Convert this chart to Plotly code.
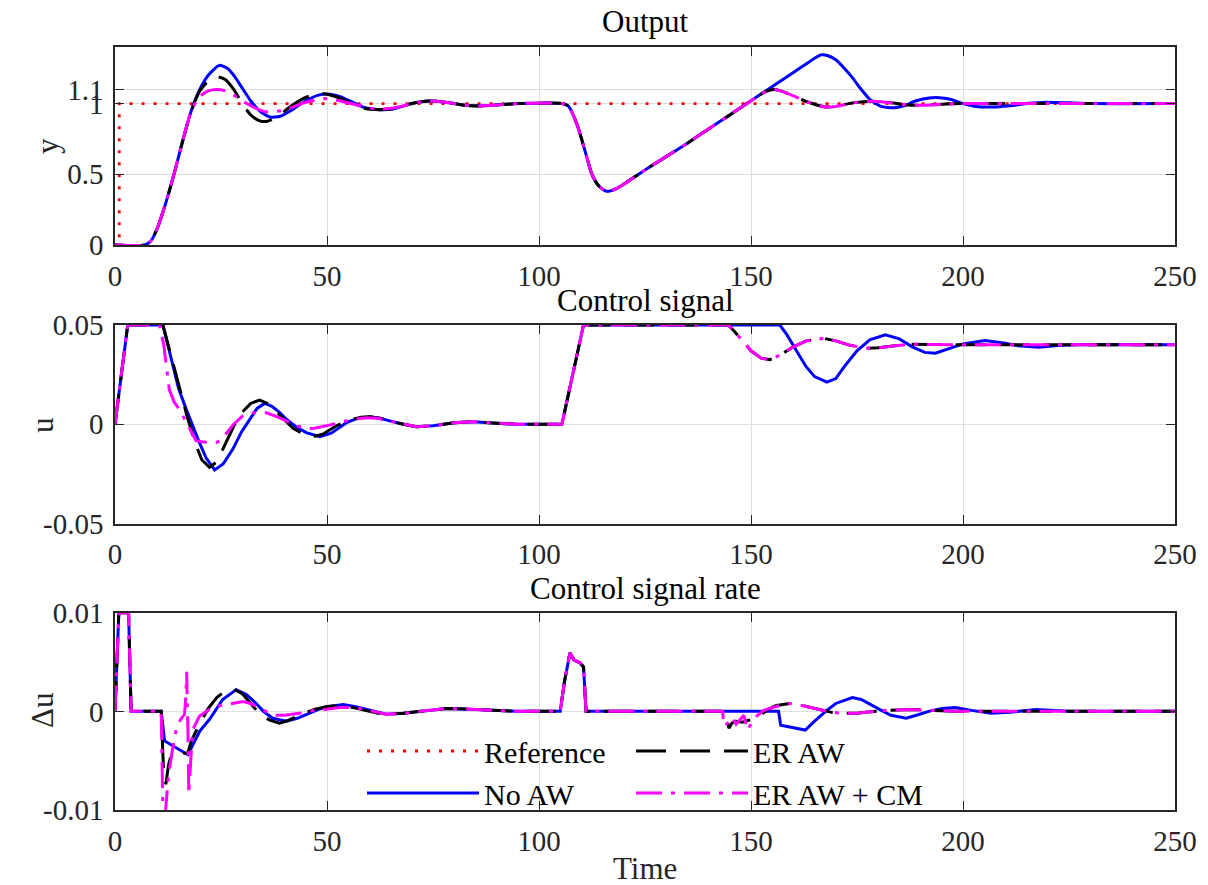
import plotly.graph_objects as go

# ---------------- data ----------------
T_REF = [0, 1, 1, 250]
Y_REF = [0, 0, 1, 1]

T_Y_NOAW = [0, 7, 8.5, 10, 12, 14, 16, 18, 20, 22, 24.6, 26.5, 28, 30, 32, 34, 36.5, 39, 42, 45,
            48, 50, 53, 56, 59, 62.4, 66, 70, 74, 78, 82, 86, 90, 95, 105.5, 107, 109, 111, 112.4, 114,
            115.5, 116.5, 118, 120, 125, 130, 135, 140, 145, 148.5, 152, 156, 160, 163, 165, 166.6, 168, 170, 172, 174,
            176, 178, 180.7, 183.7, 186, 189, 192, 194.4, 197, 200, 203, 207, 211, 215, 219.8, 225, 230, 250]
Y_NOAW = [0, 0, 0.03, 0.12, 0.3, 0.51, 0.74, 0.95, 1.1, 1.2, 1.27, 1.25, 1.2, 1.11, 1.02, 0.95, 0.905, 0.91, 0.96, 1.02,
          1.06, 1.068, 1.05, 1.01, 0.97, 0.957, 0.965, 1.0, 1.018, 1.01, 0.99, 0.983, 0.99, 1.0, 1.0, 0.98, 0.85, 0.65, 0.506, 0.42,
          0.385, 0.38, 0.395, 0.43, 0.53, 0.625, 0.72, 0.82, 0.92, 0.99, 1.06, 1.14, 1.22, 1.28, 1.32, 1.345, 1.34, 1.31, 1.25, 1.18,
          1.1, 1.03, 0.98, 0.97, 0.985, 1.02, 1.04, 1.042, 1.03, 1.0, 0.98, 0.976, 0.985, 1.0, 1.01, 1.005, 1.0, 1.0]

T_Y_ER = [0, 7, 8.5, 10, 12, 14, 16, 18, 20, 22, 24, 26, 28, 30, 32, 34, 35.7, 38, 41, 44,
          47, 49, 52, 56, 59, 62.4, 66, 70, 74, 78, 82, 86, 90, 95, 105.5, 107, 109, 111, 112.4, 114,
          115.5, 116.5, 118, 120, 125, 130, 135, 140, 145, 148.5, 152, 153.5, 155.3, 157, 160, 163, 165.5, 167.5, 170, 174,
          178.8, 183, 187, 190.5, 195, 200, 250]
Y_ER = [0, 0, 0.03, 0.12, 0.3, 0.51, 0.74, 0.95, 1.09, 1.16, 1.19, 1.17, 1.1, 1.0, 0.92, 0.88, 0.873, 0.9, 0.97, 1.03,
        1.065, 1.07, 1.05, 1.0, 0.965, 0.957, 0.965, 1.0, 1.018, 1.01, 0.99, 0.983, 0.99, 1.0, 1.0, 0.98, 0.85, 0.65, 0.506, 0.42,
        0.385, 0.38, 0.395, 0.43, 0.53, 0.625, 0.72, 0.82, 0.92, 0.99, 1.06, 1.085, 1.1, 1.09, 1.055, 1.015, 0.99, 0.976, 0.98, 1.005,
        1.016, 1.005, 0.99, 0.988, 0.995, 1.0, 1.0]

T_Y_CM = [0, 7, 8.5, 10, 12, 14, 16, 18, 20, 22, 24, 26, 28, 30, 33, 36, 40, 44, 48, 50,
          53, 57, 62, 66, 70, 74, 78, 82, 86, 90, 95, 105.5, 107, 109, 111, 112.4, 114,
          115.5, 116.5, 118, 120, 125, 130, 135, 140, 145, 148.5, 152, 153.5, 155.3, 157, 160, 163, 165.5, 167.5, 170, 174,
          178.8, 183, 187, 190.5, 195, 200, 250]
Y_CM = [0, 0, 0.03, 0.12, 0.3, 0.51, 0.74, 0.95, 1.05, 1.09, 1.10, 1.09, 1.06, 1.02, 0.97, 0.94, 0.955, 1.0, 1.03, 1.035,
        1.02, 0.99, 0.96, 0.97, 1.0, 1.018, 1.01, 0.99, 0.983, 0.99, 1.0, 1.0, 0.98, 0.85, 0.65, 0.506, 0.42,
        0.385, 0.38, 0.395, 0.43, 0.53, 0.625, 0.72, 0.82, 0.92, 0.99, 1.06, 1.085, 1.1, 1.09, 1.055, 1.015, 0.99, 0.976, 0.98, 1.005,
        1.016, 1.005, 0.99, 0.988, 0.995, 1.0, 1.0]

# control signal u
T_U_NOAW = [0, 3, 11.3, 13, 15, 16.8, 18.5, 19.9, 21.5, 23.5, 25.5, 27.8, 29.8, 31.7, 33.5, 35.3, 37, 38.8, 40.4, 42.5,
            45.1, 48.3, 51, 54.6, 57, 60.1, 62.5, 64.8, 68, 71.1, 75, 80, 84.5, 90, 95, 105.4, 110.5, 156.8, 158.5, 161,
            163, 165, 167.9, 170, 172, 175, 178, 181.7, 185, 188, 191, 193.5, 196, 200, 205.2, 210, 213, 217.9, 223, 230, 250]
U_NOAW = [0, 0.05, 0.05, 0.035, 0.018, 0.0075, -0.002, -0.0092, -0.017, -0.023, -0.02, -0.0125, -0.004, 0.0025, 0.008, 0.0105, 0.009, 0.006, 0.0025, -0.001,
          -0.0042, -0.0063, -0.0045, 0.0008, 0.0028, 0.0038, 0.003, 0.0017, 0, -0.0012, -0.0008, 0.0008, 0.0013, 0.0005, 0, 0, 0.05, 0.05, 0.045, 0.036,
          0.029, 0.024, 0.0212, 0.023, 0.029, 0.037, 0.0425, 0.045, 0.043, 0.039, 0.0362, 0.0358, 0.0375, 0.0405, 0.0422, 0.0408, 0.0395, 0.0388, 0.0398, 0.0402, 0.04]

T_U_ER = [0, 3, 11.3, 13, 15, 17, 19, 20.5, 22.3, 24, 26, 28, 30, 32, 34.1, 36, 38, 40, 42, 44.5,
          46.7, 49, 52, 55, 58, 60.1, 62.5, 64.8, 68, 71.1, 75, 80, 84.5, 90, 95, 105.4, 110.5, 144.6, 146, 148,
          150, 152.4, 154.4, 157, 160, 163, 167.1, 170, 173, 176.9, 180, 184, 187.6, 192, 200, 250]
U_ER = [0, 0.05, 0.05, 0.036, 0.02, 0.004, -0.01, -0.018, -0.0217, -0.019, -0.01, -0.001, 0.006, 0.0105, 0.0122, 0.0105, 0.0065, 0.002, -0.002, -0.005,
        -0.0063, -0.005, -0.001, 0.002, 0.0035, 0.0038, 0.003, 0.0017, 0, -0.0012, -0.0008, 0.0008, 0.0013, 0.0005, 0, 0, 0.05, 0.05, 0.047, 0.042,
        0.037, 0.0333, 0.0325, 0.035, 0.039, 0.042, 0.0433, 0.042, 0.04, 0.0383, 0.0385, 0.0395, 0.0403, 0.0402, 0.04, 0.04]

T_U_CM = [0, 3, 10.5, 11.5, 12.8, 14, 15.2, 17, 19.1, 21, 23.9, 25, 26.2, 28, 30, 32.5, 35.7, 38, 40.4, 43,
          45.1, 47, 49.8, 53, 56, 59.3, 62, 65, 68, 71.1, 75, 80, 84.5, 90, 95, 105.4, 110.5, 144.6, 146, 148,
          150, 152.4, 154.4, 157, 160, 163, 167.1, 170, 173, 176.9, 180, 184, 187.6, 192, 200, 250]
U_CM = [0, 0.05, 0.05, 0.04, 0.0175, 0.011, 0.0075, 0.0, -0.0083, -0.009, -0.0092, -0.008, -0.005, 0, 0.004, 0.0058, 0.0058, 0.004, 0.0017, -0.0008,
        -0.0022, -0.002, -0.0008, 0.001, 0.0025, 0.0033, 0.003, 0.0015, 0, -0.0012, -0.0008, 0.0008, 0.0013, 0.0005, 0, 0, 0.05, 0.05, 0.047, 0.042,
        0.037, 0.0333, 0.0325, 0.035, 0.039, 0.042, 0.0433, 0.042, 0.04, 0.0383, 0.0385, 0.0395, 0.0403, 0.0402, 0.04, 0.04]

# control signal rate du
T_DU_NOAW = [0, 0.9, 3.2, 3.8, 10.9, 11.7, 17.2, 18.3, 20, 22.3, 25.4, 28.6, 31, 33.3, 35, 37.2, 40.4, 43, 45.1, 48,
             50.6, 53.8, 56.5, 59.3, 62, 64, 68, 72, 78.2, 85, 90.8, 95, 105, 106, 107.3, 108.3, 109.7, 110.5, 111.1, 156.5,
             157, 162.8, 165, 167.6, 170, 173.9, 176, 178, 180.3, 183, 186.6, 189, 191.9, 195, 198.2, 202, 206.6, 211, 217.2, 225, 250]
DU_NOAW = [0, 0.01, 0.01, 0, 0, -0.003, -0.0044, -0.0035, -0.002, -0.0008, 0.0012, 0.0022, 0.0017, 0.0008, 0.0, -0.0007, -0.001, -0.0007, -0.0003, 0.0002,
           0.0005, 0.0007, 0.0005, 0.0002, -0.0001, -0.0003, -0.0002, 0, 0.0003, 0.0002, 0.0001, 0, 0, 0.003, 0.0059, 0.0052, 0.0049, 0.0045, 0, 0,
           -0.0014, -0.0019, -0.001, 0, 0.0008, 0.0014, 0.0012, 0.0007, 0.0002, -0.0004, -0.0007, -0.0004, 0, 0.0003, 0.0004, 0.0001, -0.0002, -0.0001, 0.0002, 0, 0]

T_DU_ER = [0, 0.9, 3.2, 3.8, 10.9, 11.4, 12, 12.6, 13.2, 17.2, 18, 20, 22, 24, 25.5, 27.8, 30, 32, 34, 36.5,
           38.8, 41, 44, 47, 50, 53, 56, 59, 62, 64, 68, 72, 78.2, 85, 90.8, 95, 105, 106, 107.3, 108.3,
           109.7, 110.5, 111.1, 143.5, 144, 144.8, 145.5, 146.5, 148, 149.5, 151, 152.5, 154, 156, 159.1, 162, 166.5, 169, 171.8, 175,
           177, 182, 187.6, 192, 198, 250]
DU_ER = [0, 0.01, 0.01, 0, 0, -0.0055, -0.0074, -0.0055, -0.0045, -0.0042, -0.003, -0.0012, 0.0003, 0.0014, 0.0019, 0.0023, 0.0018, 0.0008, -0.0002, -0.0009,
         -0.0012, -0.0009, -0.0003, 0.0002, 0.0005, 0.0006, 0.0004, 0.0001, -0.0002, -0.0003, -0.0002, 0, 0.0003, 0.0002, 0.0001, 0, 0, 0.003, 0.0059, 0.0052,
         0.0049, 0.0045, 0, 0, -0.0004, -0.0017, -0.0012, -0.001, -0.0011, -0.0009, -0.0008, -0.0003, 0.0002, 0.0006, 0.0008, 0.0006, 0.0002, -0.0001, -0.0002, -0.0002,
         -0.0001, 0.0001, 0.0002, 0.0001, 0, 0]

T_DU_CM = [0, 0.9, 3.2, 3.8, 10.9, 11.3, 11.9, 12.6, 13.5, 14.4, 15.5, 16.4, 16.7, 16.9, 17.2, 17.4, 17.8, 18.3, 19.9, 22.3,
           25, 27.8, 30.2, 32, 34.1, 36, 38, 40, 43.5, 47, 49.8, 53, 56, 59, 62, 64, 68, 72, 78.2, 85,
           90.8, 95, 105, 106, 107.3, 108.3, 109.7, 110.5, 111.1, 143.3, 143.6, 144.5, 145.5, 146.5, 147.5, 148.3, 149.2, 150.2, 151.3, 153,
           156, 159.1, 162, 166.5, 169, 171.8, 175, 177, 182, 187.6, 192, 198, 250]
DU_CM = [0, 0.01, 0.01, 0, 0, -0.0102, -0.0102, -0.0066, -0.004, -0.0019, -0.0008, -0.0003, 0.0015, 0.004, -0.002, -0.0084, -0.0055, -0.0019, -0.0005, 0.0002,
         0.0006, 0.0008, 0.001, 0.0008, 0.0003, -0.0001, -0.0004, -0.0004, -0.0002, 0.0001, 0.0002, 0.0004, 0.0004, 0.0002, -0.0001, -0.0003, -0.0002, 0, 0.0003, 0.0002,
         0.0001, 0, 0, 0.003, 0.0059, 0.0052, 0.0049, 0.0045, 0, 0, -0.0015, -0.0012, -0.0006, -0.0013, -0.0008, -0.0004, -0.0019, -0.0011, -0.0005, 0.0001,
         0.0005, 0.0008, 0.0006, 0.0002, -0.0001, -0.0002, -0.0002, -0.0001, 0.0001, 0.0002, 0.0001, 0, 0]

X_TICKS = [0, 50, 100, 150, 200, 250]
Y_TICKS_OUT = [0, 0.5, 1, 1.1]
Y_TICKS_U = [-0.05, 0, 0.05]
Y_TICKS_DU = [-0.01, 0, 0.01]
Y_TICKTEXT_OUT = ["0", "0.5", "1", "1.1"]
Y_TICKTEXT_U = ["-0.05", "0", "0.05"]
Y_TICKTEXT_DU = ["-0.01", "0", "0.01"]

TITLES = ["Output", "Control signal", "Control signal rate"]
Y_LABELS = ["y", "u", "\u0394u"]
X_LABEL = "Time"

# ---------------- styling ----------------
FONT = "Liberation Serif"
FS_TICK = 29
FS_TITLE = 31
FS_LABEL = 31
FS_LEG = 30
AX_COL = "#262626"
GRID_COL = "#dedede"
LW = 3

STY = {
    "Reference": dict(color="#ff0000", width=2.8, dash="3px,9px"),
    "No AW": dict(color="#0000ff", width=LW),
    "ER AW": dict(color="#000000", width=LW, dash="30px,14px"),
    "ER AW + CM": dict(color="#ff00ff", width=LW, dash="26px,9px,4px,9px"),
}

fig = go.Figure()

def add(x, y, name, ax, show, legend, shape="linear"):
    fig.add_trace(go.Scatter(
        x=x, y=y, mode="lines", name=name,
        line=dict(STY[name], shape=shape, smoothing=0.6) if shape == "spline" else STY[name],
        xaxis="x" + ax, yaxis="y" + ax, showlegend=show, legend=legend,
        hoverinfo="skip"))

# top
add(T_REF, Y_REF, "Reference", "", True, "legend")
add(T_Y_NOAW, Y_NOAW, "No AW", "", True, "legend", "spline")
add(T_Y_ER, Y_ER, "ER AW", "", True, "legend2", "spline")
add(T_Y_CM, Y_CM, "ER AW + CM", "", True, "legend2", "spline")
# middle
add(T_U_NOAW, U_NOAW, "No AW", "2", False, "legend")
add(T_U_ER, U_ER, "ER AW", "2", False, "legend2")
add(T_U_CM, U_CM, "ER AW + CM", "2", False, "legend2")
# bottom
add(T_DU_NOAW, DU_NOAW, "No AW", "3", False, "legend")
add(T_DU_ER, DU_ER, "ER AW", "3", False, "legend2")
add(T_DU_CM, DU_CM, "ER AW + CM", "3", False, "legend2")

W, H = 1208, 885
ML, MR, MT, MB = 115, 33, 47, 75
PH = H - MT - MB
PW = W - ML - MR

def frac(px):
    return (H - MB - px) / PH

DOMAINS = [[frac(245), frac(47)], [frac(523.5), frac(325)], [frac(810), frac(612.7)]]
RANGES = [[0, 1.4], [-0.05, 0.05], [-0.01, 0.01]]
YT = [(Y_TICKS_OUT, Y_TICKTEXT_OUT), (Y_TICKS_U, Y_TICKTEXT_U), (Y_TICKS_DU, Y_TICKTEXT_DU)]

common = dict(showline=True, linecolor=AX_COL, linewidth=1.6, mirror="ticks",
              ticks="inside", ticklen=9, tickwidth=1.3, tickcolor=AX_COL,
              showgrid=True, gridcolor=GRID_COL, gridwidth=1, zeroline=False,
              tickfont=dict(family=FONT, size=FS_TICK, color=AX_COL))

lay = {}
for i in range(3):
    sfx = "" if i == 0 else str(i + 1)
    lay["xaxis" + sfx] = dict(common, range=[0, 250], tickvals=X_TICKS, anchor="y" + sfx,
                              domain=[0, 1], ticklabelstandoff=4)
    lay["yaxis" + sfx] = dict(common, range=RANGES[i], tickvals=YT[i][0], ticktext=YT[i][1],
                              anchor="x" + sfx, domain=DOMAINS[i], ticklabelstandoff=4)

ann = []
TITLE_Y = [21, 300, 588]
for i in range(3):
    ann.append(dict(text=TITLES[i], xref="paper", yref="paper", x=0.5, y=frac(TITLE_Y[i]),
                    xanchor="center", yanchor="middle", showarrow=False,
                    font=dict(family=FONT, size=FS_TITLE, color="#000000")))
YLAB_X = [47, 42, 42]
YLAB_Y = [146, 425, 711]
for i in range(3):
    ann.append(dict(text=Y_LABELS[i], xref="paper", yref="paper",
                    x=(YLAB_X[i] - ML) / PW, y=frac(YLAB_Y[i]),
                    xanchor="center", yanchor="middle", textangle=-90, showarrow=False,
                    font=dict(family=FONT, size=FS_LABEL, color=AX_COL)))
ann.append(dict(text=X_LABEL, xref="paper", yref="paper", x=0.5, y=frac(868),
                xanchor="center", yanchor="middle", showarrow=False,
                font=dict(family=FONT, size=FS_LABEL, color=AX_COL)))

leg_common = dict(font=dict(family=FONT, size=FS_LEG, color="#000000"), bgcolor="rgba(0,0,0,0)",
                  borderwidth=0, orientation="v", xanchor="left", yanchor="top",
                  itemwidth=112, tracegroupgap=0)

fig.update_layout(
    width=W, height=H, margin=dict(l=ML, r=MR, t=MT, b=MB),
    paper_bgcolor="white", plot_bgcolor="white",
    annotations=ann,
    legend=dict(leg_common, x=(362 - ML) / PW, y=frac(725)),
    legend2=dict(leg_common, x=(631 - ML) / PW, y=frac(725)),
    **lay)

fig.write_html("out.html")
